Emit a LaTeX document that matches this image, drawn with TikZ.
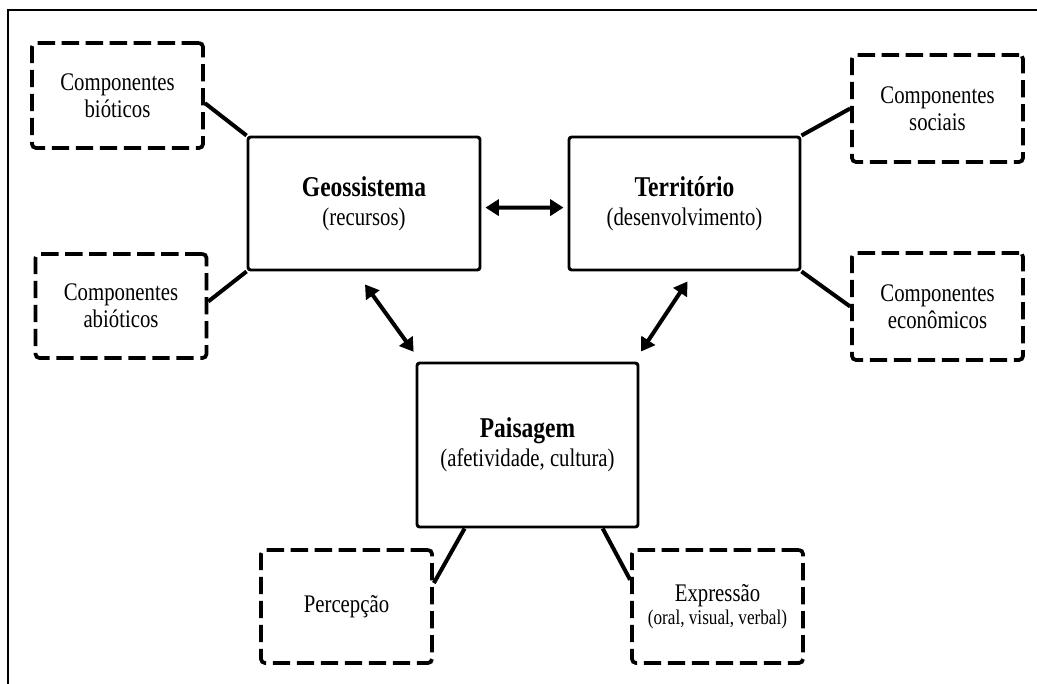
\documentclass[tikz,border=0pt]{standalone}
\usepackage{fontspec}
\setmainfont{Liberation Serif}[FakeStretch=0.82]
\usetikzlibrary{arrows.meta}
\newcommand{\conceptname}[1]{{\fontsize{21.5}{20}\selectfont\bfseries #1}}

\begin{document}
\begin{tikzpicture}[
		x=0.75pt, y=-0.75pt,
		concept/.style={rectangle, draw, line width=2.2pt, rounded corners=2pt, align=center, font=\fontsize{19}{22}\selectfont},
		facet/.style={rectangle, draw, line width=2.8pt, dash pattern=on 13pt off 5pt, rounded corners=3pt, minimum width=128.25pt, align=center, font=\fontsize{19}{20}\selectfont},
		link/.style={line width=3pt},
		arrow/.style={{Triangle[length=10pt,width=12pt]}-{Triangle[length=10pt,width=12pt]}, line width=3pt}
	]
		\useasboundingbox (0,0) rectangle (1037,684);
		% Frame
		\draw[line width=1.5pt] (1037,10) -- (8,10) -- (8,684);
		
		% Concepts
		\node[concept, minimum width=174pt, minimum height=99.75pt] (geo) at (364,203.5) {\conceptname{Geossistema}\\(recursos)};
		\node[concept, minimum width=173.25pt, minimum height=99.75pt] (terr) at (684.5,203.5) {\conceptname{Território}\\(desenvolvimento)};
		\node[concept, minimum width=165.75pt, minimum height=123pt] (pais) at (527.5,445) {\conceptname{Paisagem}\\(afetividade, cultura)};
		
		% Components
		\node[facet, minimum height=78.75pt] (biot) at (117.5,95.5) {Componentes\\bióticos};
		\node[facet, minimum height=78pt] (abiot) at (121,306) {Componentes\\abióticos};
		\node[facet, minimum height=80.25pt] (soc) at (937.5,108.5) {Componentes\\sociais};
		\node[facet, minimum height=80.25pt] (econ) at (937.5,306.5) {Componentes\\econômicos};
		\node[facet, minimum height=84.75pt] (perc) at (346.5,606.5) {Percepção};
		\node[facet, minimum height=84.75pt, font=\fontsize{19}{17.3}\selectfont] (expr) at (717.5,606.5) {Expressão\\{\fontsize{15.7}{15}\selectfont (oral, visual, verbal)}};
		
		% Links
		\draw[link] (biot.-5) -- (geo.north west);
		\draw[link] (abiot.3) -- (geo.south west);
		\draw[link] (soc.west) -- (terr.north east);
		\draw[link] (econ.west) -- (terr.south east);
		\draw[link] (pais.233) -- (perc.15);
		\draw[link] (pais.-48) -- (expr.163);
		
		% Arrows
		\draw[arrow, shorten <=3pt, shorten >=3pt] (geo.-2) -- (terr.182);
		\draw[arrow, shorten <=12pt, shorten >=9pt] (geo.263) -- (pais.142);
		\draw[arrow, shorten <=9pt, shorten >=9pt] (terr.-82) -- (pais.38);
	\end{tikzpicture}
\end{document}
